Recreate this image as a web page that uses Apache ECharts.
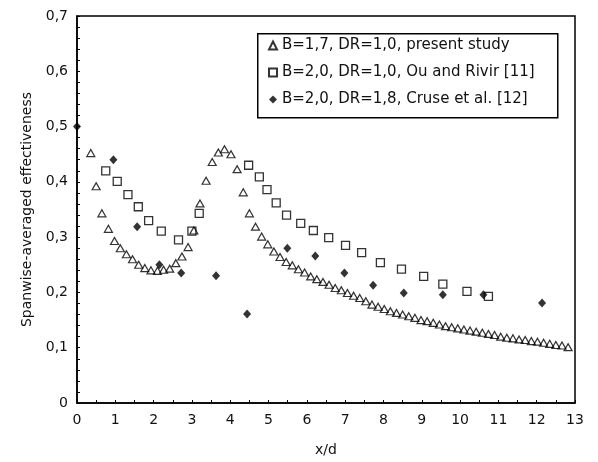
<!DOCTYPE html>
<html>
<head>
<meta charset="utf-8">
<script src="https://cdn.jsdelivr.net/npm/echarts@6/dist/echarts.min.js"></script>
<style>html,body{margin:0;padding:0;background:#fff}#c{width:598px;height:462px}</style>
</head>
<body>
<div id="c"></div>
<script>
// ---- data ----
var seriesNames = [
  'B=1,7, DR=1,0, present study',
  'B=2,0, DR=1,0, Ou and Rivir [11]',
  'B=2,0, DR=1,8, Cruse et al. [12]'
];
var presentX = [0.36,0.50,0.65,0.82,0.98,1.13,1.29,1.45,1.61,1.77,1.93,2.10,2.26,2.42,2.58,2.74,2.90,3.05,3.21,3.37,3.53,3.69,3.85,4.02,4.18,4.34,4.50,4.66,4.82,4.98,5.14,5.30,5.46,5.62,5.78,5.94,6.10,6.26,6.42,6.58,6.74,6.90,7.06,7.22,7.38,7.54,7.70,7.86,8.02,8.18,8.34,8.50,8.66,8.82,8.98,9.14,9.30,9.46,9.62,9.78,9.94,10.10,10.26,10.42,10.58,10.74,10.90,11.06,11.22,11.38,11.54,11.70,11.86,12.02,12.18,12.34,12.50,12.66,12.82];
var presentY = [0.452,0.392,0.343,0.315,0.293,0.280,0.269,0.260,0.250,0.244,0.240,0.239,0.241,0.243,0.253,0.265,0.282,0.312,0.361,0.402,0.436,0.453,0.459,0.450,0.423,0.381,0.343,0.319,0.301,0.287,0.274,0.264,0.255,0.249,0.242,0.236,0.229,0.224,0.219,0.214,0.208,0.204,0.199,0.194,0.190,0.184,0.178,0.174,0.170,0.166,0.163,0.160,0.157,0.154,0.150,0.148,0.145,0.142,0.139,0.137,0.135,0.133,0.131,0.129,0.127,0.125,0.123,0.120,0.118,0.117,0.115,0.114,0.112,0.111,0.109,0.107,0.105,0.104,0.101];
var ouX = [0.75,1.05,1.33,1.60,1.87,2.20,2.65,3.00,3.19,4.48,4.76,4.96,5.20,5.47,5.84,6.17,6.57,7.01,7.43,7.92,8.47,9.05,9.55,10.18,10.74];
var ouY = [0.420,0.401,0.377,0.355,0.330,0.311,0.295,0.311,0.343,0.430,0.409,0.386,0.362,0.340,0.325,0.312,0.299,0.285,0.272,0.254,0.242,0.229,0.215,0.202,0.193];
var cruseX = [0.00,0.95,1.57,2.15,2.72,3.63,4.44,5.49,6.22,6.98,7.73,8.53,9.55,10.61,12.14];
var cruseY = [0.500,0.440,0.319,0.250,0.235,0.230,0.161,0.280,0.266,0.235,0.213,0.199,0.196,0.196,0.181];
var xTicks = {min:0, max:13, interval:1};
var yTicks = {min:0, max:0.7, interval:0.1};

function pairs(xs, ys){ return xs.map(function(x,i){ return [x, ys[i]]; }); }

var chart = echarts.init(document.getElementById('c'), null, {renderer:'canvas'});
var font = 'DejaVu Sans';
chart.setOption({
  animation: false,
  backgroundColor: '#fff',
  textStyle: {fontFamily: font},
  grid: {left: 77, right: 23, top: 16, bottom: 53, show: true, borderColor: '#000', borderWidth: 1.5, backgroundColor: 'transparent'},
  graphic: [{
    type: 'rect', left: 257, top: 33, z: 5,
    shape: {width: 300, height: 84},
    style: {fill: '#fff', stroke: '#000', lineWidth: 1.5}
  }],
  legend: {
    z: 10,
    left: 268, top: 38, orient: 'vertical', itemGap: 12,
    itemWidth: 8, itemHeight: 8, padding: 0,
    textStyle: {fontFamily: font, fontSize: 15, color: '#111'},
    data: seriesNames
  },
  xAxis: {
    type: 'value', min: xTicks.min, max: xTicks.max, interval: xTicks.interval,
    name: 'x/d', nameLocation: 'middle', nameGap: 40,
    nameTextStyle: {fontFamily: font, fontSize: 14, color: '#111'},
    axisLine: {show: true, lineStyle: {color: '#000', width: 1.5}},
    axisTick: {show: true, inside: true, length: 3, lineStyle: {color: '#000'}},
    minorTick: {show: true, splitNumber: 2, length: 3, lineStyle: {color: '#000'}},
    axisLabel: {margin: 10, fontFamily: font, fontSize: 14, color: '#111'},
    splitLine: {show: false}
  },
  yAxis: {
    type: 'value', min: yTicks.min, max: yTicks.max, interval: yTicks.interval,
    name: 'Spanwise-averaged effectiveness', nameLocation: 'middle', nameGap: 37,
    nameTextStyle: {fontFamily: font, fontSize: 14, color: '#111'},
    axisLine: {show: true, lineStyle: {color: '#000', width: 1.5}},
    axisTick: {show: true, inside: true, length: 3, lineStyle: {color: '#000'}},
    minorTick: {show: true, splitNumber: 5, length: 3, lineStyle: {color: '#000'}},
    axisLabel: {margin: 9, fontFamily: font, fontSize: 14, color: '#111',
      formatter: function(v){ return (Math.round(v*10)/10).toString().replace('.', ','); }},
    splitLine: {show: false}
  },
  series: [
    {name: seriesNames[0], type: 'scatter', symbol: 'triangle', symbolSize: [8,7],
     itemStyle: {color: 'rgba(255,255,255,0)', borderColor: '#000', borderWidth: 1.2},
     data: pairs(presentX, presentY)},
    {name: seriesNames[1], type: 'scatter', symbol: 'rect', symbolSize: 8,
     itemStyle: {color: 'rgba(255,255,255,0)', borderColor: '#000', borderWidth: 1.3},
     data: pairs(ouX, ouY)},
    {name: seriesNames[2], type: 'scatter', symbol: 'diamond', symbolSize: [8,9],
     itemStyle: {color: '#000', borderColor: '#000', borderWidth: 0},
     data: pairs(cruseX, cruseY)}
  ]
});
</script>
</body>
</html>
